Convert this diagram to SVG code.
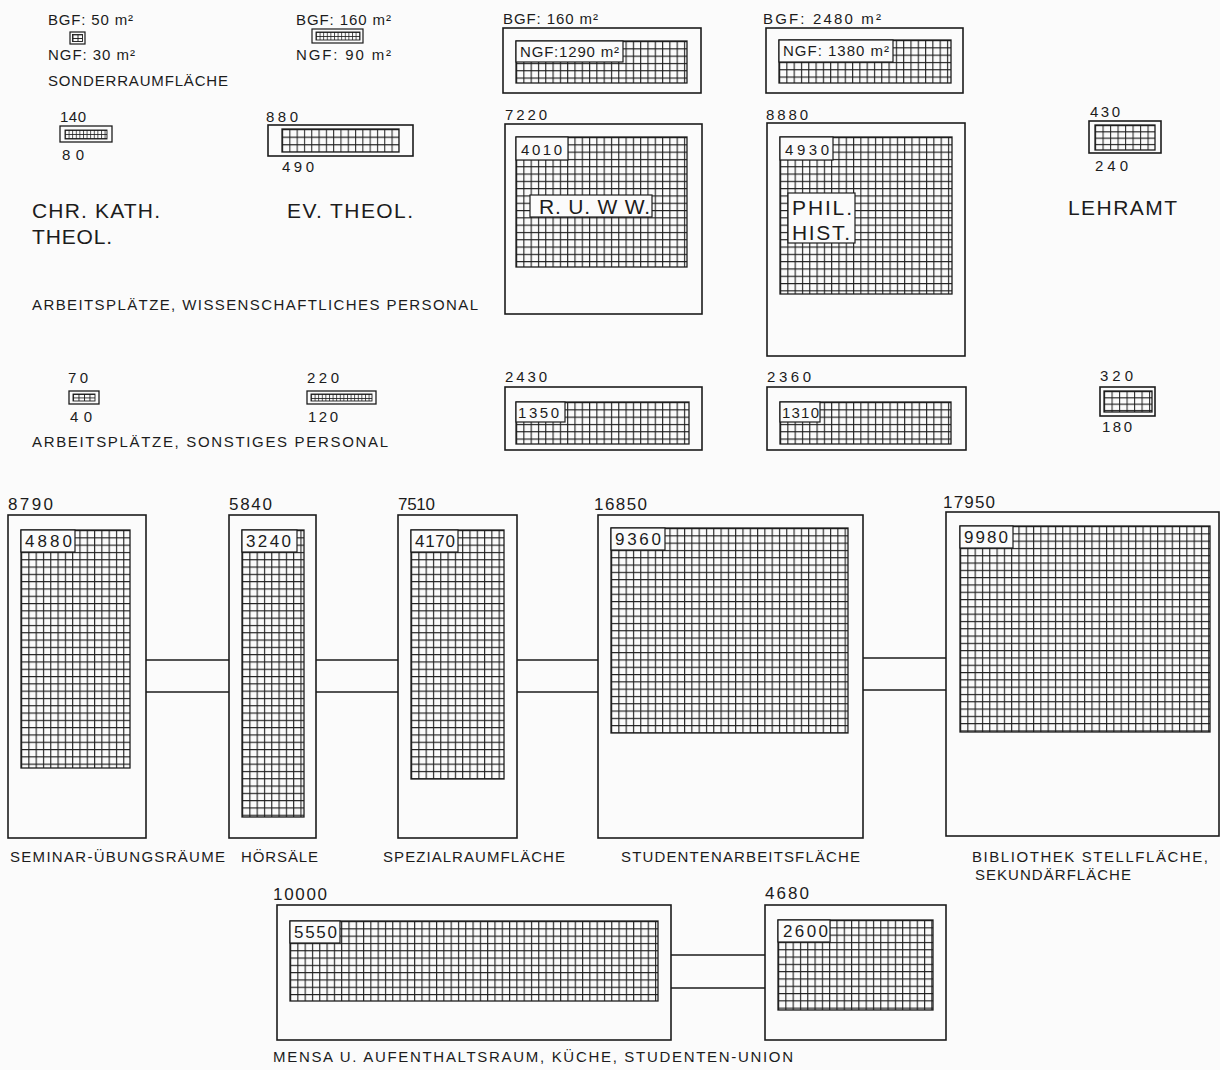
<svg xmlns="http://www.w3.org/2000/svg" width="1220" height="1070" viewBox="0 0 1220 1070">
<style>
.bg{fill:#fbfbfb}
.box{fill:none;stroke:#1c1c1c;stroke-width:1.6}
.gb{stroke:#1c1c1c;stroke-width:1.3}
.lb{fill:#fbfbfb;stroke:#1c1c1c;stroke-width:1.2}
.con{stroke:#1c1c1c;stroke-width:1.4;fill:none}
text{font-family:"Liberation Sans",Arial,sans-serif;fill:#1c1c1c}
.n{font-size:17px}
.s{font-size:15px}
.L{font-size:21px}
</style>
<defs>
<pattern id="p73" width="7.3" height="7.3" patternUnits="userSpaceOnUse"><path d="M0 0.6H7.3M0.6 0V7.3" stroke="#1c1c1c" stroke-width="1.1" fill="none"/></pattern>
<pattern id="p880" width="7.3" height="7.6" patternUnits="userSpaceOnUse"><path d="M0 0.6H7.3M0.6 0V7.6" stroke="#1c1c1c" stroke-width="1" fill="none"/></pattern>
<pattern id="p5" width="5" height="3.5" patternUnits="userSpaceOnUse"><path d="M0 0.5H5M0.5 0V3.5" stroke="#1c1c1c" stroke-width="0.9" fill="none"/></pattern>
<pattern id="p37" width="3.6" height="4" patternUnits="userSpaceOnUse"><path d="M0 0.5H3.6M0.5 0V4" stroke="#1c1c1c" stroke-width="0.8" fill="none"/></pattern>
<pattern id="p55" width="5.5" height="3.5" patternUnits="userSpaceOnUse"><path d="M0 0.5H5.5M0.5 0V3.5" stroke="#1c1c1c" stroke-width="0.9" fill="none"/></pattern>
<pattern id="p7" width="7.5" height="6.3" patternUnits="userSpaceOnUse"><path d="M0 0.6H7.5M0.6 0V6.3" stroke="#1c1c1c" stroke-width="1" fill="none"/></pattern>
</defs>
<rect class="bg" x="0" y="0" width="1220" height="1070"/>

<g id="legend-sonder">
<text class="s" x="48" y="25" textLength="85">BGF: 50 m²</text>
<rect class="box" x="70" y="32" width="15" height="12" style="stroke-width:1.2"/>
<g transform="translate(72.5,34.5)"><rect class="gb" width="10" height="7" fill="url(#p5)" style="stroke-width:0.9"/></g>
<text class="s" x="48" y="60" textLength="87">NGF: 30 m²</text>
<text class="s" x="48" y="86" textLength="180">SONDERRAUMFLÄCHE</text>
</g>

<g id="ev-sonder">
<text class="s" x="296" y="25" textLength="95">BGF: 160 m²</text>
<rect class="box" x="312" y="29" width="51" height="14" style="stroke-width:1.2"/>
<g transform="translate(316,32)"><rect class="gb" width="44" height="8" fill="url(#p37)" style="stroke-width:0.9"/></g>
<text class="s" x="296" y="60" textLength="95">NGF: 90 m²</text>
</g>

<g id="ruww-sonder">
<text class="s" x="503" y="24" textLength="95">BGF: 160 m²</text>
<rect class="box" x="503" y="28" width="198" height="65"/>
<g transform="translate(516,41)"><rect class="gb" width="171" height="42" fill="url(#p73)"/></g>
<rect class="lb" x="516" y="41" width="107" height="21"/>
<text class="s" x="520" y="57" textLength="99">NGF:1290 m²</text>
</g>

<g id="phil-sonder">
<text class="s" x="763" y="24" textLength="118">BGF: 2480 m²</text>
<rect class="box" x="766" y="28" width="197" height="65"/>
<g transform="translate(779,40)"><rect class="gb" width="172" height="43" fill="url(#p73)"/></g>
<rect class="lb" x="779" y="40" width="114" height="22"/>
<text class="s" x="783" y="56" textLength="106">NGF: 1380 m²</text>
</g>

<g id="kath-wiss">
<text class="s" x="60" y="122" textLength="26">140</text>
<rect class="box" x="60" y="126" width="52" height="16" style="stroke-width:1.3"/>
<g transform="translate(65,130)"><rect class="gb" width="42" height="9" fill="url(#p37)" style="stroke-width:0.9"/></g>
<text class="s" x="62" y="160" textLength="22">80</text>
<text class="L" x="32" y="218" textLength="128">CHR. KATH.</text>
<text class="L" x="32" y="244" textLength="80">THEOL.</text>
</g>

<g id="ev-wiss">
<text class="s" x="266" y="122" textLength="32">880</text>
<rect class="box" x="268" y="125" width="145" height="31"/>
<g transform="translate(282,129)"><rect class="gb" width="117" height="23" fill="url(#p880)"/></g>
<text class="s" x="282" y="172" textLength="32">490</text>
<text class="L" x="287" y="218" textLength="126">EV. THEOL.</text>
</g>

<g id="ruww-wiss">
<text class="s" x="505" y="120" textLength="42">7220</text>
<rect class="box" x="505" y="124" width="197" height="190"/>
<g transform="translate(516,137)"><rect class="gb" width="171" height="130" fill="url(#p73)"/></g>
<rect class="lb" x="516" y="137" width="52" height="23"/>
<text class="s" x="521" y="155" textLength="41">4010</text>
<rect class="lb" x="530" y="195" width="122" height="22"/>
<text class="L" x="539" y="214" textLength="111">R. U. W W.</text>
</g>

<g id="phil-wiss">
<text class="s" x="766" y="120" textLength="42">8880</text>
<rect class="box" x="767" y="123" width="198" height="233"/>
<g transform="translate(780,137)"><rect class="gb" width="172" height="157" fill="url(#p73)"/></g>
<rect class="lb" x="780" y="137" width="53" height="23"/>
<text class="s" x="785" y="155" textLength="44">4930</text>
<rect class="lb" x="788" y="193" width="67" height="50"/>
<text class="L" x="792" y="215" textLength="60">PHIL.</text>
<text class="L" x="792" y="240" textLength="58">HIST.</text>
</g>

<g id="lehramt-wiss">
<text class="s" x="1090" y="117" textLength="30">430</text>
<rect class="box" x="1089" y="121" width="72" height="32"/>
<g transform="translate(1095,125)"><rect class="gb" width="60" height="25" fill="url(#p7)"/></g>
<text class="s" x="1095" y="171" textLength="33">240</text>
<text class="L" x="1068" y="215" textLength="109">LEHRAMT</text>
</g>

<text class="s" x="32" y="310" textLength="446">ARBEITSPLÄTZE, WISSENSCHAFTLICHES PERSONAL</text>

<g id="kath-sonst">
<text class="s" x="68" y="383" textLength="20">70</text>
<rect class="box" x="69" y="391" width="30" height="13" style="stroke-width:1.3"/>
<g transform="translate(73,394)"><rect class="gb" width="22" height="7" fill="url(#p55)" style="stroke-width:0.9"/></g>
<text class="s" x="70" y="422" textLength="22">40</text>
</g>

<g id="ev-sonst">
<text class="s" x="307" y="383" textLength="32">220</text>
<rect class="box" x="307" y="391" width="69" height="13" style="stroke-width:1.3"/>
<g transform="translate(311,394)"><rect class="gb" width="61" height="7" fill="url(#p37)" style="stroke-width:0.9"/></g>
<text class="s" x="308" y="422" textLength="30">120</text>
</g>

<g id="ruww-sonst">
<text class="s" x="505" y="382" textLength="42">2430</text>
<rect class="box" x="505" y="387" width="197" height="63"/>
<g transform="translate(516,402)"><rect class="gb" width="173" height="42" fill="url(#p73)"/></g>
<rect class="lb" x="516" y="402" width="49" height="20"/>
<text class="s" x="518" y="418" textLength="41">1350</text>
</g>

<g id="phil-sonst">
<text class="s" x="767" y="382" textLength="44">2360</text>
<rect class="box" x="767" y="387" width="199" height="63"/>
<g transform="translate(780,402)"><rect class="gb" width="171" height="42" fill="url(#p73)"/></g>
<rect class="lb" x="780" y="402" width="40" height="20"/>
<text class="s" x="782" y="418" textLength="37">1310</text>
</g>

<g id="lehramt-sonst">
<text class="s" x="1100" y="381" textLength="33">320</text>
<rect class="box" x="1100" y="387" width="55" height="29"/>
<g transform="translate(1104,391)"><rect class="gb" width="48" height="21" fill="url(#p7)"/></g>
<text class="s" x="1102" y="432" textLength="30">180</text>
</g>

<text class="s" x="32" y="447" textLength="356">ARBEITSPLÄTZE, SONSTIGES PERSONAL</text>

<g id="connectors">
<path class="con" d="M146 660H229M146 692H229"/>
<path class="con" d="M316 660H398M316 692H398"/>
<path class="con" d="M517 660H598M517 692H598"/>
<path class="con" d="M863 658H946M863 690H946"/>
<path class="con" d="M671 955H765M671 988H765"/>
</g>

<g id="seminar">
<text class="n" x="8" y="510" textLength="45">8790</text>
<rect class="box" x="8" y="515" width="138" height="323"/>
<g transform="translate(21,530)"><rect class="gb" width="109" height="238" fill="url(#p73)"/></g>
<rect class="lb" x="21" y="530" width="54" height="22"/>
<text class="n" x="25" y="547" textLength="47">4880</text>
<text class="s" x="10" y="862" textLength="215">SEMINAR-ÜBUNGSRÄUME</text>
</g>

<g id="hoersaele">
<text class="n" x="229" y="510" textLength="43">5840</text>
<rect class="box" x="229" y="515" width="87" height="323"/>
<g transform="translate(242,530)"><rect class="gb" width="62" height="287" fill="url(#p73)"/></g>
<rect class="lb" x="242" y="530" width="55" height="22"/>
<text class="n" x="246" y="547" textLength="45">3240</text>
<text class="s" x="241" y="862" textLength="77">HÖRSÄLE</text>
</g>

<g id="spezial">
<text class="n" x="398" y="510" textLength="37">7510</text>
<rect class="box" x="398" y="515" width="119" height="323"/>
<g transform="translate(411,530)"><rect class="gb" width="93" height="249" fill="url(#p73)"/></g>
<rect class="lb" x="411" y="530" width="47" height="22"/>
<text class="n" x="415" y="547" textLength="40">4170</text>
<text class="s" x="383" y="862" textLength="182">SPEZIALRAUMFLÄCHE</text>
</g>

<g id="studenten">
<text class="n" x="594" y="510" textLength="53">16850</text>
<rect class="box" x="598" y="515" width="265" height="323"/>
<g transform="translate(611,528)"><rect class="gb" width="237" height="205" fill="url(#p73)"/></g>
<rect class="lb" x="611" y="528" width="54" height="22"/>
<text class="n" x="615" y="545" textLength="46">9360</text>
<text class="s" x="621" y="862" textLength="239">STUDENTENARBEITSFLÄCHE</text>
</g>

<g id="bibliothek">
<text class="n" x="943" y="508" textLength="52">17950</text>
<rect class="box" x="946" y="512" width="273" height="324"/>
<g transform="translate(960,526)"><rect class="gb" width="250" height="206" fill="url(#p73)"/></g>
<rect class="lb" x="960" y="526" width="53" height="22"/>
<text class="n" x="964" y="543" textLength="44">9980</text>
<text class="s" x="972" y="862" textLength="236">BIBLIOTHEK STELLFLÄCHE,</text>
<text class="s" x="975" y="880" textLength="156">SEKUNDÄRFLÄCHE</text>
</g>

<g id="mensa">
<text class="n" x="273" y="900" textLength="54">10000</text>
<rect class="box" x="277" y="905" width="394" height="135"/>
<g transform="translate(290,921)"><rect class="gb" width="368" height="80" fill="url(#p73)"/></g>
<rect class="lb" x="290" y="921" width="50" height="22"/>
<text class="n" x="294" y="938" textLength="43">5550</text>
</g>

<g id="kueche">
<text class="n" x="765" y="899" textLength="44">4680</text>
<rect class="box" x="765" y="905" width="181" height="135"/>
<g transform="translate(778,920)"><rect class="gb" width="155" height="90" fill="url(#p73)"/></g>
<rect class="lb" x="778" y="920" width="52" height="22"/>
<text class="n" x="783" y="937" textLength="45">2600</text>
</g>

<text class="s" x="273" y="1062" textLength="520">MENSA U. AUFENTHALTSRAUM, KÜCHE, STUDENTEN-UNION</text>
</svg>
